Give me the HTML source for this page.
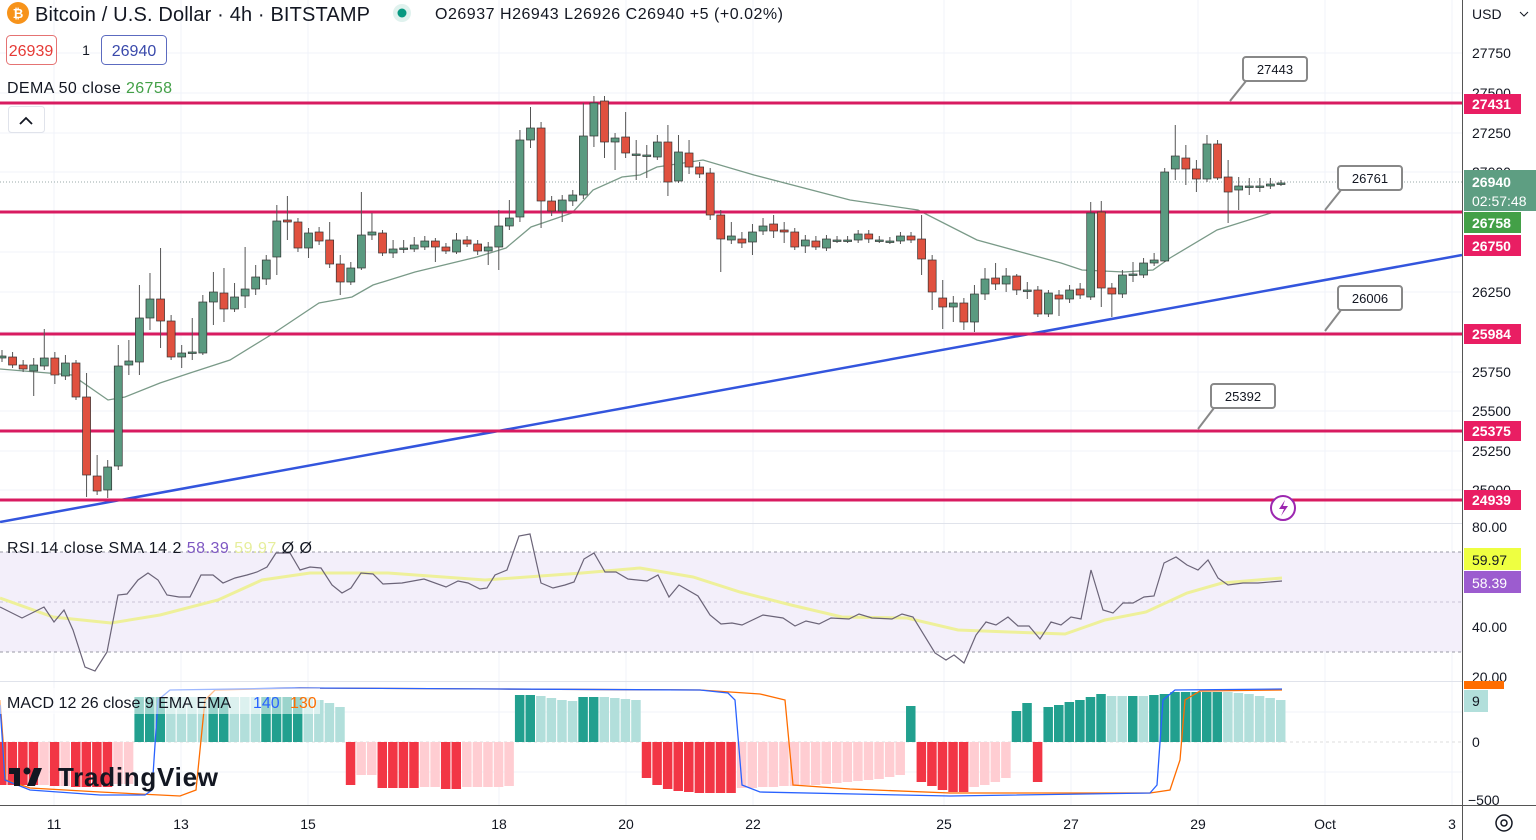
<!DOCTYPE html>
<html><head><meta charset="utf-8">
<style>
html,body{margin:0;padding:0;background:#fff;}
body{width:1536px;height:840px;overflow:hidden;position:relative;font-family:"Liberation Sans",sans-serif;color:#131722;}
svg{position:absolute;left:0;top:0;}
.t{font-family:"Liberation Sans",sans-serif;}
</style></head><body>
<svg id="s" width="1536" height="840" viewBox="0 0 1536 840" xmlns="http://www.w3.org/2000/svg">
<g id="grid" stroke="#f0f3fa" stroke-width="1"></g>
<rect x="0" y="552" width="1462" height="100" fill="#f3effa"/>
<g stroke="#9a9aa6" stroke-dasharray="3,3" stroke-width="1">
<line x1="0" y1="552" x2="1462" y2="552"/><line x1="0" y1="602" x2="1462" y2="602" stroke="#c8c3d6"/><line x1="0" y1="652" x2="1462" y2="652"/>
<line x1="0" y1="742" x2="1462" y2="742" stroke="#ddd"/>
</g>
<line x1="0" y1="182" x2="1462" y2="182" stroke="#9aa" stroke-dasharray="1,2"/>
<g id="hist"></g>
<g id="macd" fill="none" stroke-width="1.3"></g>
<g id="rsi" fill="none"></g>
<polyline id="dema" fill="none" stroke="#7a9a88" stroke-width="1.3"/>
<line x1="0" y1="522" x2="1462" y2="255" stroke="#3355dd" stroke-width="2.5"/>
<g stroke="#d81b60" stroke-width="3">
<line x1="0" y1="103" x2="1462" y2="103"/><line x1="0" y1="212" x2="1462" y2="212"/><line x1="0" y1="334" x2="1462" y2="334"/><line x1="0" y1="431" x2="1462" y2="431"/><line x1="0" y1="500" x2="1462" y2="500"/>
</g>
<g id="candles"></g>
<g class="t" font-size="13" text-anchor="middle" fill="#131722">
<path d="M1230 101 L1246 81" stroke="#888" stroke-width="2"/><rect x="1243" y="57" width="64" height="24" rx="3" fill="#fff" stroke="#888" stroke-width="2"/><text x="1275" y="74">27443</text>
<path d="M1325 210 L1341 190" stroke="#888" stroke-width="2"/><rect x="1338" y="166" width="64" height="24" rx="3" fill="#fff" stroke="#888" stroke-width="2"/><text x="1370" y="183">26761</text>
<path d="M1325 331 L1341 310" stroke="#888" stroke-width="2"/><rect x="1338" y="286" width="64" height="24" rx="3" fill="#fff" stroke="#888" stroke-width="2"/><text x="1370" y="303">26006</text>
<path d="M1198 429 L1214 408" stroke="#888" stroke-width="2"/><rect x="1211" y="384" width="64" height="24" rx="3" fill="#fff" stroke="#888" stroke-width="2"/><text x="1243" y="401">25392</text>
</g>
<circle cx="1283" cy="508" r="12" fill="#fff" stroke="#9c27b0" stroke-width="2"/>
<path d="M1285 500 L1279 509 L1284 509 L1281 516 L1288 506 L1283 506 Z" fill="#9c27b0"/>
<line x1="0" y1="523.5" x2="1462" y2="523.5" stroke="#e0e3eb"/>
<line x1="0" y1="681.5" x2="1462" y2="681.5" stroke="#e0e3eb"/>
<line x1="0" y1="805.5" x2="1536" y2="805.5" stroke="#555" />
<line x1="1462.5" y1="0" x2="1462.5" y2="840" stroke="#555"/>
<g class="t" font-size="14" fill="#131722">
<text x="1472" y="19">USD</text><path d="M1520 12 l4 4 l4 -4" stroke="#131722" fill="none"/>
<text x="1472" y="58">27750</text><text x="1472" y="98">27500</text><text x="1472" y="138">27250</text><text x="1472" y="177">27000</text>
<text x="1472" y="297">26250</text><text x="1472" y="377">25750</text><text x="1472" y="416">25500</text><text x="1472" y="456">25250</text><text x="1472" y="495">25000</text>
<text x="1472" y="532">80.00</text><text x="1472" y="632">40.00</text><text x="1472" y="682">20.00</text>
<text x="1472" y="747">0</text><text x="1468" y="805">−500</text>
</g>
<g class="t" font-size="14" font-weight="bold" fill="#fff">
<rect x="1464" y="94" width="57" height="20" fill="#e91e63"/><text x="1472" y="109">27431</text>
<rect x="1464" y="170" width="72" height="41" fill="#5e9e82"/><text x="1472" y="187">26940</text><text x="1472" y="206" font-weight="normal">02:57:48</text>
<rect x="1464" y="212" width="57" height="21" fill="#43a047"/><text x="1472" y="228">26758</text>
<rect x="1464" y="235" width="57" height="21" fill="#e91e63"/><text x="1472" y="251">26750</text>
<rect x="1464" y="324" width="57" height="20" fill="#e91e63"/><text x="1472" y="339">25984</text>
<rect x="1464" y="421" width="57" height="20" fill="#e91e63"/><text x="1472" y="436">25375</text>
<rect x="1464" y="490" width="57" height="20" fill="#e91e63"/><text x="1472" y="505">24939</text>
<rect x="1464" y="548" width="57" height="22" fill="#eeff41"/><text x="1472" y="565" fill="#131722" font-weight="normal">59.97</text>
<rect x="1464" y="571" width="57" height="22" fill="#9c5ccf"/><text x="1472" y="588" font-weight="normal">58.39</text>
<rect x="1464" y="681" width="40" height="8" fill="#ff6d00"/>
<rect x="1464" y="690" width="24" height="22" fill="#b2dfdb"/><text x="1472" y="706" fill="#131722" font-weight="normal">9</text>
</g>
<g class="t" font-size="14" fill="#131722" text-anchor="middle">
<text x="54" y="829">11</text><text x="181" y="829">13</text><text x="308" y="829">15</text><text x="499" y="829">18</text><text x="626" y="829">20</text><text x="753" y="829">22</text><text x="944" y="829">25</text><text x="1071" y="829">27</text><text x="1198" y="829">29</text><text x="1325" y="829">Oct</text><text x="1452" y="829">3</text>
</g>
<circle cx="1504" cy="823" r="8" fill="none" stroke="#131722" stroke-width="1.5"/><circle cx="1504" cy="823" r="3" fill="none" stroke="#131722" stroke-width="1.5"/>
<circle cx="18" cy="13" r="11" fill="#f7931a"/><text x="18" y="18" font-size="13" fill="#fff" text-anchor="middle" class="t" font-weight="bold">₿</text>
<text x="35" y="21" class="t" font-size="20" fill="#131722" textLength="335">Bitcoin / U.S. Dollar · 4h · BITSTAMP</text>
<circle cx="402" cy="13" r="9" fill="#e0f2ee"/><circle cx="402" cy="13" r="4.5" fill="#089981"/>
<text x="435" y="19" class="t" font-size="16" fill="#131722" textLength="348">O26937 H26943 L26926 C26940 +5 (+0.02%)</text>
<rect x="6.5" y="35.5" width="50" height="29" rx="4" fill="#fff" stroke="#e57373"/><text x="31" y="56" class="t" font-size="16" fill="#e53935" text-anchor="middle">26939</text>
<text x="86" y="55" class="t" font-size="14" fill="#131722" text-anchor="middle">1</text>
<rect x="101.5" y="35.5" width="65" height="29" rx="4" fill="#fff" stroke="#5c6bc0"/><text x="134" y="56" class="t" font-size="16" fill="#3949ab" text-anchor="middle">26940</text>
<text x="7" y="93" class="t" font-size="16" fill="#131722" textLength="165">DEMA 50 close <tspan fill="#43a047">26758</tspan></text>
<rect x="8.5" y="106.5" width="36" height="26" rx="3" fill="#fff" stroke="#e0e3eb"/><path d="M20 124 l6 -6 l6 6" stroke="#131722" stroke-width="1.8" fill="none"/>
<text x="7" y="553" class="t" font-size="16" fill="#131722" textLength="305">RSI 14 close SMA 14 2 <tspan fill="#7e57c2">58.39</tspan> <tspan fill="#e6ee9c">59.97</tspan> Ø Ø</text>
<rect x="0" y="688" width="320" height="26" fill="#fff" opacity="0.55"/>
<text x="7" y="708" class="t" font-size="16" fill="#131722">MACD 12 26 close 9 EMA EMA</text>
<text x="253" y="708" class="t" font-size="16" fill="#2962ff">140</text><text x="290" y="708" class="t" font-size="16" fill="#ff6d00">130</text>
<rect x="9" y="768" width="11" height="6" fill="#131722"/><rect x="14" y="768" width="6" height="18" fill="#131722"/><circle cx="27" cy="771" r="3.5" fill="#131722"/><path d="M34 768 L42 768 L35 786 L27 786 Z" fill="#131722"/>
<text x="58" y="786" class="t" font-size="26" font-weight="bold" fill="#131722" textLength="160">TradingView</text>
</svg>
<script>
var NS="http://www.w3.org/2000/svg";
function el(p,t,a){var e=document.createElementNS(NS,t);for(var k in a)e.setAttribute(k,a[k]);p.appendChild(e);return e;}
var g=document.getElementById('grid');
[53,93,133,172,212,252,292,332,372,411,451,490,577,627,712,772].forEach(function(y){el(g,'line',{x1:0,y1:y,x2:1462,y2:y});});
[54,181,308,499,626,753,944,1071,1198,1325,1452].forEach(function(x){el(g,'line',{x1:x,y1:0,x2:x,y2:805});});
var C="g 356 358 350 362|r 357 365 352 368|r 365 369 360 372|g 365 371 358 396|g 358 366 329 370|r 358 375 352 384|g 363 376 355 380|r 363 397 360 400|r 397 475 373 497|r 476 491 455 495|g 467 490 460 498|g 366 466 345 470|g 361 365 340 375|g 318 362 285 375|g 299 318 273 330|r 299 321 248 348|r 321 357 315 360|g 353 357 345 368|g 352 353 318 360|g 302 353 295 355|g 292 302 272 325|r 293 309 268 322|g 297 309 283 312|g 289 296 247 308|g 277 289 265 295|g 260 279 255 285|g 221 257 205 275|r 220 222 196 240|r 222 248 218 252|g 233 248 228 258|r 232 241 227 245|r 240 264 222 268|r 264 282 255 295|g 268 282 262 285|g 235 268 192 270|g 232 235 213 240|r 233 253 230 256|g 249 253 240 258|g 248 249 240 253|g 245 249 237 252|g 241 247 236 250|r 241 247 238 262|r 247 251 243 254|g 240 252 233 254|r 240 244 236 247|r 244 251 240 255|g 247 251 242 265|g 226 247 210 270|g 218 226 200 230|g 140 217 130 222|g 128 140 107 148|r 128 201 122 228|r 201 211 196 216|g 200 211 195 222|g 195 201 190 206|g 136 195 103 199|g 103 136 96 147|r 101 142 96 158|g 138 142 133 170|r 137 153 112 158|g 154 155 140 180|g 155 156 145 178|g 142 157 135 160|r 142 182 125 196|g 152 181 135 183|r 153 167 140 174|r 167 174 162 178|r 173 215 168 220|r 215 239 210 272|g 236 240 222 244|r 239 243 232 248|g 232 242 224 255|g 226 231 218 235|r 224 231 215 238|r 230 232 222 243|r 232 247 228 250|g 240 246 235 253|r 241 247 236 250|g 239 248 235 251|g 240 241 236 243|g 240 241 236 243|g 234 240 230 243|r 234 239 230 243|g 240 241 236 243|g 241 242 237 244|g 236 241 232 244|r 236 240 232 243|r 239 259 215 275|r 260 292 255 310|r 298 307 280 329|g 303 307 296 322|r 303 322 298 330|g 294 322 285 332|g 279 294 268 300|r 278 284 263 290|g 276 284 268 292|r 276 290 274 295|g 290 291 282 299|r 290 314 286 317|g 293 314 290 317|r 295 299 290 316|g 290 299 285 303|r 289 295 283 299|g 213 297 202 300|r 212 288 201 307|r 288 294 283 317|g 275 294 270 298|g 274 275 262 282|g 263 275 258 278|g 260 263 253 266|g 172 261 168 262|g 156 169 125 180|r 158 169 145 185|r 169 179 160 192|g 144 179 135 182|r 144 178 140 180|r 177 192 160 223|g 186 190 177 210|g 186 187 178 195|g 186 187 178 192|g 184 186 178 189|g 183 184 180 186".split('|');
var cg=document.getElementById('candles');
C.forEach(function(s,i){var a=s.split(' ');var x=2+i*10.57,t=+a[1],b=+a[2],h=+a[3],l=+a[4];
 el(cg,'line',{x1:x,y1:h,x2:x,y2:l,stroke:'#555','stroke-width':1});
 el(cg,'rect',{x:x-4,y:t,width:8,height:Math.max(1.5,b-t),fill:a[0]=='g'?'#5a9a80':'#e0513f',stroke:'#333','stroke-width':0.7});});
var H=[];function seg(a,b,c,v){for(var i=a;i<=b;i++)H[i]=[c,Array.isArray(v)?v[i-a]:v];}
var R='#f23645',P='#ffcdd2',D='#22a08f',L='#b2dfdb';
seg(0,3,R,785);seg(4,4,P,785);seg(5,5,R,786);seg(6,6,P,786);seg(7,10,R,787);seg(11,12,P,784);
seg(13,15,D,697);seg(16,19,L,697);seg(20,21,D,697);seg(22,24,L,697);seg(25,28,D,697);seg(29,32,L,[697,700,703,707]);
seg(33,33,R,785);seg(34,35,P,775);seg(36,39,R,788);seg(40,41,P,787);seg(42,43,R,789);seg(44,47,P,787);seg(48,48,P,786);
seg(49,50,D,695);seg(51,54,L,[696,698,700,701]);seg(55,56,D,697);seg(57,60,L,[697,698,699,700]);
seg(61,69,R,[778,785,789,791,792,793,793,793,793]);seg(70,85,P,[788,788,787,787,786,786,785,785,784,783,782,781,780,779,777,775]);
seg(86,86,D,706);seg(87,91,R,[782,786,790,792,792]);seg(92,95,P,[787,785,782,778]);seg(96,97,D,[711,703]);seg(98,98,R,782);
seg(99,103,D,[707,705,702,700,697]);seg(104,104,D,694);seg(105,106,L,696);seg(107,107,D,696);seg(108,108,L,696);seg(109,115,D,[695,694,692,692,692,692,692]);seg(116,121,L,[692,693,694,696,698,700]);
var hg=document.getElementById('hist');
H.forEach(function(h,i){if(!h)return;var x=2+i*10.57-5;var v=h[1];
 if(v<742)el(hg,'rect',{x:x,y:v,width:9.5,height:742-v,fill:h[0]});else el(hg,'rect',{x:x,y:742,width:9.5,height:v-742,fill:h[0]});});
var mg=document.getElementById('macd');
el(mg,'polyline',{stroke:'#ff6d00',points:'0,700 6,780 30,788 100,792 180,796 196,790 205,700 215,690 300,688 500,689 700,690 760,694 785,700 793,785 850,789 950,793 1150,793 1170,790 1180,760 1185,700 1200,691 1282,690'});
el(mg,'polyline',{stroke:'#2962ff',points:'0,705 5,780 30,790 100,795 145,795 152,790 158,700 170,690 300,688 500,689 700,690 728,693 735,700 742,785 760,792 950,796 1150,793 1157,785 1163,700 1175,690 1282,689'});
var rg=document.getElementById('rsi');
el(rg,'polyline',{stroke:'#eef09a','stroke-width':3,points:'0,598 53,617 111,623 160,615 218,600 262,580 310,573 388,573 485,580 582,573 640,568 693,577 740,592 791,605 842,617 907,618 958,630 1009,632 1065,634 1105,620 1146,612 1187,593 1222,583 1282,578'});
el(rg,'polyline',{stroke:'#6b6478','stroke-width':1.2,points:'0,607 22,618 44,607 54,622 64,610 73,630 85,667 95,671 107,652 118,595 127,594 138,580 148,573 158,580 167,595 179,597 190,597 201,575 213,575 223,583 235,578 247,575 257,572 267,567 276,553 290,553 300,570 310,567 321,568 332,585 342,593 351,588 361,573 373,574 383,584 402,583 424,579 446,587 458,581 468,583 480,589 487,588 495,575 507,570 519,536 530,534 541,583 553,588 565,585 574,582 584,559 594,553 605,572 616,572 628,579 647,581 658,575 669,597 679,585 698,596 710,615 721,624 732,623 742,625 763,615 783,618 795,626 806,621 819,624 831,618 849,619 859,614 872,618 892,619 902,614 913,617 935,653 946,660 954,655 964,663 976,635 986,622 996,625 1008,617 1018,626 1029,626 1040,639 1051,622 1061,625 1071,617 1081,619 1091,570 1103,610 1113,613 1123,603 1133,603 1144,597 1154,596 1164,563 1176,557 1187,565 1198,570 1208,560 1218,578 1228,585 1243,583 1258,583 1282,581'});
document.getElementById('dema').setAttribute('points','0,369 72,375 108,400 125,397 160,383 190,373 230,360 274,333 319,303 352,297 373,285 415,272 477,257 506,248 531,227 572,213 593,190 622,177 640,175 657,167 703,160 754,175 850,200 918,210 977,240 1061,263 1082,270 1124,272 1153,270 1170,258 1217,230 1271,213');
</script>
</body></html>
